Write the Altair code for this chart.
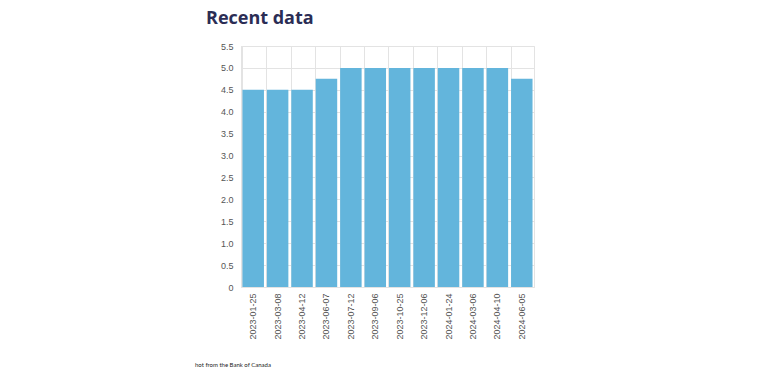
import altair as alt
import pandas as pd

dates = ["2023-01-25", "2023-03-08", "2023-04-12", "2023-06-07", "2023-07-12", "2023-09-06",
         "2023-10-25", "2023-12-06", "2024-01-24", "2024-03-06", "2024-04-10", "2024-06-05"]
rates = [4.5, 4.5, 4.5, 4.75, 5.0, 5.0, 5.0, 5.0, 5.0, 5.0, 5.0, 4.75]
y_ticks = [0, 0.5, 1.0, 1.5, 2.0, 2.5, 3.0, 3.5, 4.0, 4.5, 5.0, 5.5]

df = pd.DataFrame({"date": dates, "rate": rates})

bars = alt.Chart(df).mark_bar(color="#63b5dc").encode(
    x=alt.X("date:N", sort=dates, title=None,
            scale=alt.Scale(paddingInner=0.12, paddingOuter=0.06),
            axis=alt.Axis(labelAngle=-90, labelColor="#555", labelFontSize=9,
                          labelFont="Liberation Sans", ticks=False, domain=False,
                          grid=True, bandPosition=0, gridColor="#e3e3e3", labelPadding=6)),
    y=alt.Y("rate:Q", title=None,
            scale=alt.Scale(domain=[0, 5.5], nice=False),
            axis=alt.Axis(values=y_ticks, labelColor="#555", labelFontSize=9,
                          labelFont="Liberation Sans", ticks=False, domain=True,
                          domainColor="#e3e3e3", gridColor="#e3e3e3", labelPadding=8,
                          labelExpr="datum.value == 0 ? '0' : format(datum.value, '.1f')")),
)

footer = alt.Chart(pd.DataFrame({"t": ["hot from the Bank of Canada"]})).mark_text(
    align="left", baseline="alphabetic", fontSize=6, font="Lato", color="#222"
).encode(x=alt.value(-46), y=alt.value(321), text="t:N")

chart = alt.layer(bars, footer).properties(
    width=293, height=241,
    autosize=alt.AutoSizeParams(type="none"),
    padding={"left": 233, "top": 38, "right": 200, "bottom": 80},
    title=alt.TitleParams("Recent data", anchor="start", dx=11, offset=14,
                          fontSize=18, font="Open Sans", fontWeight="bold", color="#2b2d55"),
).configure_view(stroke="#e3e3e3")

chart.save("out.html", embed_options={"renderer": "svg", "actions": False})
